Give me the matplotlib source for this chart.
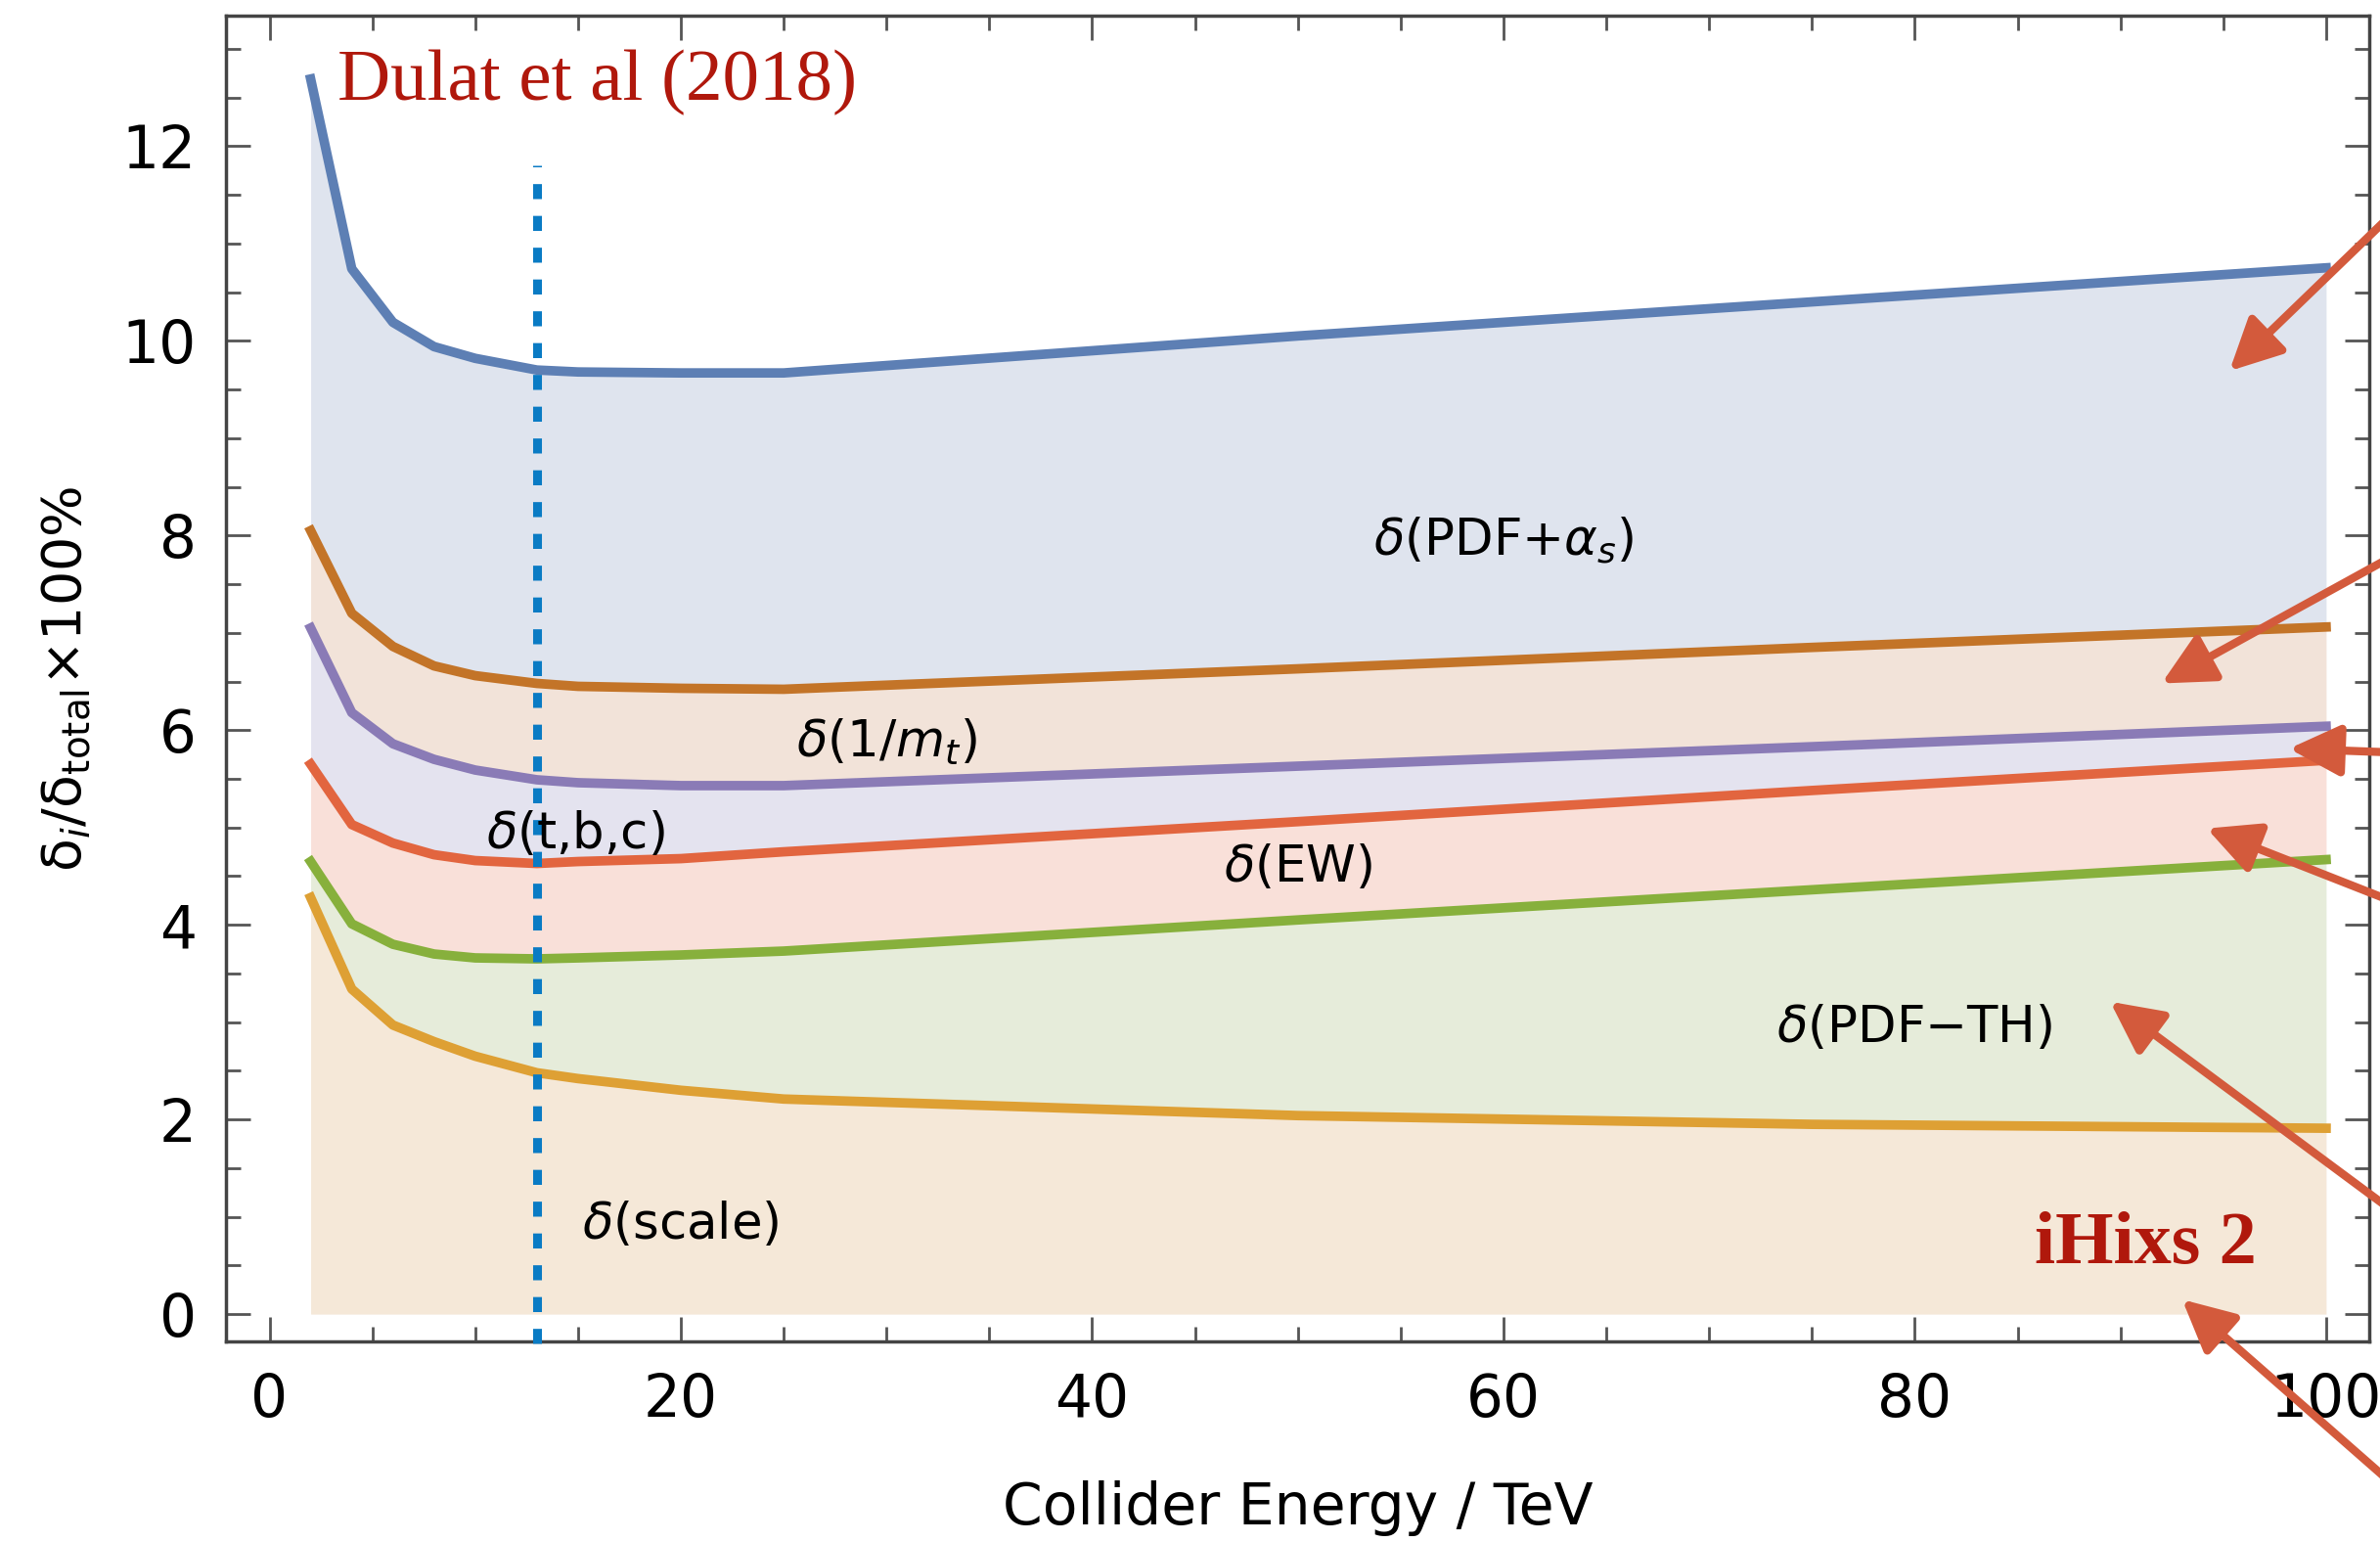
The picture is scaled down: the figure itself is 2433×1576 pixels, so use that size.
import matplotlib.pyplot as plt
from matplotlib.ticker import MultipleLocator

# collider energy (TeV) and upper edge of each stacked contribution (%)
energy = [2, 4, 6, 8, 10, 13, 15, 20, 25, 50, 75, 100]
pdf_as = [12.69, 10.74, 10.19, 9.94, 9.82, 9.70, 9.68, 9.67, 9.67, 10.05, 10.40, 10.75]
inv_mt = [8.05, 7.20, 6.86, 6.66, 6.56, 6.48, 6.45, 6.43, 6.42, 6.63, 6.85, 7.06]
tbc = [7.05, 6.18, 5.86, 5.70, 5.59, 5.49, 5.46, 5.43, 5.43, 5.63, 5.83, 6.04]
ew = [5.65, 5.03, 4.84, 4.72, 4.66, 4.63, 4.65, 4.68, 4.75, 5.06, 5.38, 5.69]
pdf_th = [4.65, 4.01, 3.80, 3.70, 3.66, 3.65, 3.66, 3.69, 3.73, 4.05, 4.36, 4.67]
scale = [4.28, 3.34, 2.97, 2.80, 2.65, 2.48, 2.42, 2.30, 2.21, 2.04, 1.95, 1.91]

lhc_energy = 13

band_labels = [r'$\delta$(PDF+$\alpha_s$)', r'$\delta$(1/$m_t$)', r'$\delta$(t,b,c)',
               r'$\delta$(EW)', r'$\delta$(PDF$-$TH)', r'$\delta$(scale)']
label_x = [60, 30, 14.9, 50, 80, 20]
label_y = [7.80, 5.73, 4.79, 4.44, 2.80, 0.78]

# arrow tips (data coords) coming in from the right edge
arrow_tip_x = [95.3, 92.0, 98.2, 94.2, 89.5, 93.0]
arrow_tip_y = [9.69, 6.48, 5.81, 4.99, 3.21, 0.15]
arrow_tail_y = [1357, 1007, 807, 655, 339, 60]   # figure pixels at x=2445

line_colors = ['#5d7fb4', '#c37428', '#8a7bb6', '#e2653f', '#87b03c', '#dea034']
fill_colors = ['#dfe4ee', '#f2e3d9', '#e4e3ef', '#f9e0d9', '#e6ecda', '#f5e8d8']

fig = plt.figure(figsize=(24.33, 15.76), dpi=100)
ax = fig.add_axes([0.0951, 0.1301, 0.9004, 0.8597])

curves = [pdf_as, inv_mt, tbc, ew, pdf_th, scale]
for i, curve in enumerate(curves):
    lower = curves[i + 1] if i + 1 < len(curves) else [0] * len(energy)
    ax.fill_between(energy, lower, curve, color=fill_colors[i], lw=0, zorder=1)
for i, curve in enumerate(curves):
    ax.plot(energy, curve, color=line_colors[i], lw=7, zorder=3, solid_joinstyle='round')

ax.plot([lhc_energy, lhc_energy], [-0.3, 11.8], color='#0a7bc4', lw=6.5,
        linestyle=(0, (1.7, 1.9)), zorder=4, clip_on=False)

for txt, x, y in zip(band_labels, label_x, label_y):
    ax.text(x, y, txt, fontsize=37, ha='center', va='baseline', zorder=5)

ax.text(3.3, 12.47, 'Dulat et al (2018)', family='Liberation Serif', fontsize=54,
        color='#b0180c', ha='left', va='baseline', zorder=5)
ax.text(91.2, 0.52, 'iHixs 2', family='Liberation Serif', fontweight='bold', fontsize=55,
        color='#b0180c', ha='center', va='baseline', zorder=5)

for x, y, ty in zip(arrow_tip_x, arrow_tip_y, arrow_tail_y):
    ax.annotate('', xy=(x, y), xycoords='data', xytext=(2445, ty), textcoords='figure pixels',
                arrowprops=dict(arrowstyle='-|>,head_length=1.6,head_width=0.8', mutation_scale=20,
                                color='#d35a3c', lw=6, shrinkA=0, shrinkB=0),
                annotation_clip=False, zorder=6)

ax.set_xlim(-2.1, 102.1)
ax.set_ylim(-0.28, 13.34)
ax.xaxis.set_major_locator(MultipleLocator(20))
ax.xaxis.set_minor_locator(MultipleLocator(5))
ax.yaxis.set_major_locator(MultipleLocator(2))
ax.yaxis.set_minor_locator(MultipleLocator(0.5))
ax.tick_params(which='both', direction='in', top=True, right=True, color='#555555', width=2)
ax.tick_params(which='major', length=18, labelsize=43, pad=22)
ax.tick_params(which='minor', length=11)
for sp in ax.spines.values():
    sp.set_color('#444444')
    sp.set_linewidth(2.5)

ax.set_xlabel('Collider Energy / TeV', fontsize=42, labelpad=38)
ax.set_ylabel(r'δ$_i$/δ$_{\mathrm{total}}$×100%', fontsize=40, labelpad=22)

fig.savefig('out.png', dpi=100)
